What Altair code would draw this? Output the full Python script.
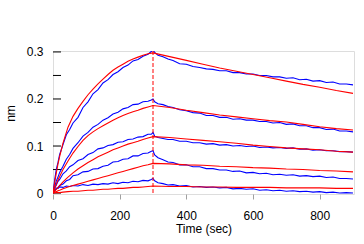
import altair as alt
import pandas as pd

# ---- data ----
BLUE_T = [0, 5, 10, 15, 20, 30, 40, 50, 60, 75, 90, 105, 120, 135, 150, 165, 180, 195, 210, 225,
          240, 255, 270, 285, 295, 300, 305, 315, 330, 345, 360, 380, 400, 420, 440, 460, 480, 500,
          520, 540, 560, 580, 600, 620, 640, 660, 680, 700, 720, 740, 760, 780, 800, 820, 840, 860,
          880, 900]

BLUE_5 = [0.000, 0.028, 0.051, 0.065, 0.082, 0.103, 0.124, 0.135, 0.149, 0.161, 0.182, 0.194, 0.211,
          0.220, 0.234, 0.241, 0.252, 0.258, 0.267, 0.272, 0.281, 0.284, 0.291, 0.295, 0.301, 0.304,
          0.299, 0.293, 0.290, 0.285, 0.282, 0.275, 0.274, 0.269, 0.267, 0.264, 0.263, 0.260, 0.260,
          0.256, 0.256, 0.253, 0.253, 0.250, 0.250, 0.247, 0.247, 0.244, 0.245, 0.241, 0.242, 0.238,
          0.239, 0.235, 0.236, 0.232, 0.232, 0.230]
BLUE_4 = [0.000, 0.013, 0.026, 0.034, 0.044, 0.057, 0.072, 0.082, 0.095, 0.107, 0.121, 0.129, 0.140,
          0.146, 0.155, 0.160, 0.168, 0.172, 0.179, 0.182, 0.188, 0.189, 0.194, 0.195, 0.198, 0.200,
          0.194, 0.190, 0.188, 0.184, 0.182, 0.177, 0.175, 0.171, 0.170, 0.165, 0.165, 0.161, 0.161,
          0.157, 0.158, 0.155, 0.155, 0.152, 0.152, 0.149, 0.150, 0.146, 0.147, 0.143, 0.143, 0.139,
          0.139, 0.135, 0.136, 0.132, 0.132, 0.130]
BLUE_3 = [0.000, 0.010, 0.017, 0.025, 0.029, 0.041, 0.047, 0.056, 0.060, 0.069, 0.073, 0.082, 0.086,
          0.094, 0.096, 0.101, 0.103, 0.108, 0.109, 0.114, 0.115, 0.119, 0.120, 0.125, 0.125, 0.129,
          0.121, 0.118, 0.116, 0.114, 0.114, 0.110, 0.110, 0.107, 0.107, 0.104, 0.105, 0.102, 0.103,
          0.100, 0.101, 0.099, 0.100, 0.097, 0.098, 0.096, 0.097, 0.095, 0.096, 0.093, 0.094, 0.091,
          0.092, 0.090, 0.090, 0.088, 0.088, 0.087]
BLUE_2 = [0.000, 0.005, 0.010, 0.011, 0.016, 0.019, 0.026, 0.029, 0.037, 0.039, 0.045, 0.046, 0.051,
          0.052, 0.057, 0.059, 0.066, 0.067, 0.072, 0.073, 0.079, 0.079, 0.084, 0.085, 0.089, 0.090,
          0.081, 0.075, 0.071, 0.066, 0.065, 0.060, 0.060, 0.056, 0.056, 0.052, 0.052, 0.049, 0.049,
          0.046, 0.047, 0.043, 0.044, 0.041, 0.042, 0.039, 0.040, 0.038, 0.039, 0.036, 0.037, 0.035,
          0.036, 0.033, 0.034, 0.031, 0.031, 0.030]
BLUE_1 = [0.000, 0.006, 0.010, 0.010, 0.013, 0.012, 0.015, 0.014, 0.016, 0.015, 0.018, 0.016, 0.019,
          0.018, 0.020, 0.019, 0.022, 0.020, 0.023, 0.022, 0.025, 0.024, 0.027, 0.026, 0.029, 0.031,
          0.026, 0.022, 0.020, 0.017, 0.018, 0.015, 0.016, 0.013, 0.014, 0.012, 0.013, 0.011, 0.012,
          0.009, 0.010, 0.008, 0.009, 0.006, 0.007, 0.005, 0.006, 0.004, 0.005, 0.003, 0.004, 0.002,
          0.003, 0.001, 0.002, 0.000, 0.001, 0.000]

RED_T = [0, 5, 10, 15, 20, 30, 45, 60, 75, 90, 105, 120, 135, 150, 165, 180, 195, 210, 225, 240, 255,
         270, 285, 300, 350, 400, 450, 500, 550, 600, 650, 700, 750, 800, 850, 900]

RED_5 = [0.000, 0.022, 0.043, 0.062, 0.078, 0.106, 0.140, 0.163, 0.180, 0.195, 0.209, 0.221, 0.232,
         0.242, 0.252, 0.261, 0.268, 0.274, 0.280, 0.285, 0.289, 0.293, 0.296, 0.298, 0.290, 0.282,
         0.274, 0.266, 0.259, 0.252, 0.245, 0.238, 0.231, 0.225, 0.218, 0.212]
RED_4 = [0.000, 0.010, 0.019, 0.028, 0.035, 0.050, 0.068, 0.085, 0.099, 0.112, 0.122, 0.130, 0.137,
         0.143, 0.149, 0.155, 0.160, 0.165, 0.169, 0.173, 0.176, 0.180, 0.183, 0.186, 0.182, 0.176,
         0.171, 0.166, 0.162, 0.158, 0.154, 0.151, 0.146, 0.141, 0.137, 0.134]
RED_3 = [0.000, 0.004, 0.008, 0.012, 0.016, 0.024, 0.034, 0.043, 0.051, 0.058, 0.065, 0.071, 0.077,
         0.082, 0.087, 0.092, 0.096, 0.100, 0.104, 0.107, 0.110, 0.114, 0.117, 0.120, 0.118, 0.115,
         0.112, 0.109, 0.106, 0.102, 0.099, 0.096, 0.094, 0.092, 0.089, 0.087]
RED_2 = [0.000, 0.002, 0.003, 0.005, 0.006, 0.009, 0.013, 0.016, 0.019, 0.022, 0.025, 0.028, 0.031,
         0.034, 0.037, 0.040, 0.043, 0.046, 0.049, 0.052, 0.055, 0.058, 0.060, 0.063, 0.062, 0.060,
         0.059, 0.057, 0.056, 0.054, 0.053, 0.051, 0.050, 0.048, 0.047, 0.045]
RED_1 = [0.000, 0.000, 0.001, 0.001, 0.001, 0.002, 0.003, 0.004, 0.004, 0.005, 0.006, 0.006, 0.007,
         0.008, 0.008, 0.009, 0.010, 0.010, 0.011, 0.012, 0.012, 0.013, 0.014, 0.015, 0.014, 0.014,
         0.013, 0.013, 0.012, 0.012, 0.012, 0.011, 0.011, 0.011, 0.010, 0.010]

Y_TICKS = [0, 0.05, 0.1, 0.15, 0.2, 0.25, 0.3]
Y_LABELS = [0, 0.1, 0.2, 0.3]
X_TICKS = list(range(0, 901, 50))
INJECTION_END = [300]

# ---- build tables ----
rows = []
for name, vals in [("1", BLUE_1), ("2", BLUE_2), ("3", BLUE_3), ("4", BLUE_4), ("5", BLUE_5)]:
    for t, v in zip(BLUE_T, vals):
        rows.append({"t": t, "v": v, "curve": name})
blue_df = pd.DataFrame(rows)

rows = []
for name, vals in [("1", RED_1), ("2", RED_2), ("3", RED_3), ("4", RED_4), ("5", RED_5)]:
    for t, v in zip(RED_T, vals):
        rows.append({"t": t, "v": v, "curve": name})
red_df = pd.DataFrame(rows)

FONT = "Liberation Sans"
xscale = alt.Scale(domain=[0, 903], nice=False, zero=False)
yscale = alt.Scale(domain=[-0.002, 0.302], nice=False, zero=False)

x_axis = alt.Axis(values=X_TICKS, labelExpr="datum.value % 200 == 0 ? datum.label : ''",
                  tickColor="#a0a0a0", tickSize=5, domain=False, grid=False,
                  labelFont=FONT, labelFontSize=12, labelColor="#000000", labelPadding=11,
                  labelOverlap=False, labelFlush=False,
                  title="Time (sec)", titleFont=FONT, titleFontSize=12,
                  titleFontWeight="normal", titleColor="#000000", titlePadding=2)
y_axis = alt.Axis(values=Y_LABELS, format=".1~f", ticks=False, domain=False, grid=False,
                  labelFont=FONT, labelFontSize=12, labelColor="#000000", labelPadding=10,
                  title="nm", titleFont=FONT, titleFontSize=12, titleFontWeight="normal",
                  titleColor="#000000", titleAngle=270, titleX=-43, titleY=62,
                  titleAlign="center", titleBaseline="middle")

blue = alt.Chart(blue_df).mark_line(color="#0000ff", strokeWidth=1.1, clip=True).encode(
    x=alt.X("t:Q", scale=xscale, axis=x_axis),
    y=alt.Y("v:Q", scale=yscale, axis=y_axis),
    detail="curve:N",
    order="t:Q",
)
red = alt.Chart(red_df).mark_line(color="#ff0000", strokeWidth=1.1, clip=True).encode(
    x=alt.X("t:Q", scale=xscale),
    y=alt.Y("v:Q", scale=yscale),
    detail="curve:N",
    order="t:Q",
)
vline = alt.Chart(pd.DataFrame({"t": INJECTION_END})).mark_rule(
    color="#ff0000", strokeDash=[4, 2], strokeWidth=1).encode(
    x=alt.X("t:Q", scale=xscale))
yticks = alt.Chart(pd.DataFrame({"v": Y_TICKS})).mark_rule(color="#000000", strokeWidth=1).encode(
    y=alt.Y("v:Q", scale=yscale),
    x=alt.value(0), x2=alt.value(8))

chart = alt.layer(yticks, blue, vline, red).properties(
    width=301, height=143,
    padding={"left": 53, "top": 51, "right": 10, "bottom": 50},
    autosize=alt.AutoSizeParams(type="none"),
).configure_view(stroke="#c0c0c0", strokeWidth=1).configure(background="white")

chart.save("out.html", embed_options={"renderer": "svg", "actions": False})
